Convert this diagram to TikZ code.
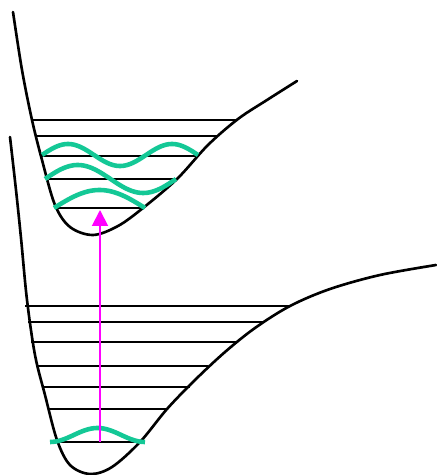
\documentclass[tikz,border=0pt]{standalone}
\usetikzlibrary{arrows.meta}
\definecolor{wavegreen}{RGB}{20,200,150}
\definecolor{absorb}{RGB}{255,0,255}
\tikzset{
  pes/.style={line width=1.5pt, line join=round, line cap=round},
  level/.style={line width=1.1pt},
  wave/.style={line width=2.6pt, wavegreen},
  transition/.style={line width=1.1pt, absorb, -{Triangle[width=9pt,length=9pt]}}
}
\begin{document}
\begin{tikzpicture}[x=0.02cm, y=-0.02cm]
  \useasboundingbox (0,0) rectangle (436,475);
  % excited state
  \draw[pes] plot[smooth, tension=0.55] coordinates {(13,12) (22,70) (32,120) (42,160) (55,205) (70,227) (93,235) (118,226) (143,208) (177,179) (208,145) (238,119) (267,100) (297,81)};
  \draw[level] (32,120) -- (238,120);
  \draw[level] (36,136) -- (218,136);
  \draw[level] (42,156) -- (197,156);
  \draw[level] (49,179) -- (177,179);
  \draw[level] (55,208) -- (143,208);
  % ground state
  \draw[pes] plot[smooth, tension=0.55] coordinates {(10,137) (16,190) (21,238) (27,300) (35,355) (45,395) (57,440) (70,465) (90,474) (112,467) (140,442) (167,409) (195,380) (225,352) (255,328) (290,306) (330,289) (380,275) (436,265)};
  \draw[level] (25,306) -- (290,306);
  \draw[level] (28,322) -- (263,322);
  \draw[level] (31,342) -- (237,342);
  \draw[level] (38,366) -- (208,366);
  \draw[level] (43,387) -- (190,387);
  \draw[level] (48,409) -- (167,409);
  \draw[level] (57,442) -- (140,442);
  % vibrational wavefunctions
  \draw[wave] plot[domain=0:180, samples=40] ({54+\x/180*91}, {208-18*sin(\x)});
  \draw[wave] plot[domain=0:360, samples=60] ({45+\x/360*131}, {179-14*sin(\x)});
  \draw[wave] plot[domain=0:540, samples=80] ({42+\x/540*156}, {155-11*sin(\x)});
  \draw[wave] plot[domain=0:180, samples=40] ({50+\x/180*95}, {442-14*sin(\x)^2});
  % absorption
  \coordinate (g0) at (100,442);
  \coordinate (e0) at (100,210);
  \draw[transition] (g0) -- (e0);
\end{tikzpicture}
\end{document}
